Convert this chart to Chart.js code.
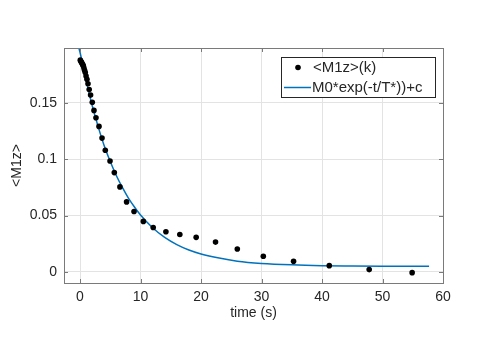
<!DOCTYPE html>
<html>
<head>
<meta charset="utf-8">
<script src="https://cdn.jsdelivr.net/npm/chart.js@4/dist/chart.umd.min.js"></script>
<style>
  html, body { margin: 0; padding: 0; background: #fff; }
  #wrap { width: 491px; height: 345px; }
</style>
</head>
<body>
<div id="wrap"><canvas id="c" width="491" height="345"></canvas></div>
<script>
// ---- data ----
const timeS = [0.05, 0.15, 0.25, 0.35, 0.45, 0.55, 0.65, 0.75, 0.87, 1.0, 1.15, 1.32, 1.52, 1.75,
  2.03, 2.31, 2.64, 3.14, 3.64, 4.18, 4.96, 5.67, 6.6, 7.7, 8.93, 10.47, 12.1, 14.2, 16.5,
  19.2, 22.4, 26.0, 30.3, 35.3, 41.2, 47.8, 54.9];
const m1z = [0.188, 0.187, 0.186, 0.185, 0.184, 0.183, 0.181, 0.179, 0.177, 0.174, 0.171, 0.167, 0.162, 0.157,
  0.1507, 0.1434, 0.1369, 0.1292, 0.1188, 0.108, 0.0985, 0.0882, 0.0755, 0.0622, 0.0537, 0.0449, 0.0395, 0.0357, 0.0333,
  0.0307, 0.0265, 0.0204, 0.0139, 0.0094, 0.0056, 0.0021, -0.0006];
const fitT = [-0.15, 0, 1, 2, 3, 4, 5, 6, 7, 8, 9, 10, 12, 14, 16, 18, 20, 23, 26, 30, 35, 40, 45, 50, 57.7];
const fitY = [0.198, 0.195, 0.170, 0.148, 0.129, 0.112, 0.098, 0.0856, 0.075, 0.0656, 0.0577, 0.0506, 0.0393, 0.0307,
  0.0243, 0.0195, 0.016, 0.0123, 0.0096, 0.0076, 0.0063, 0.0056, 0.0053, 0.0051, 0.005];
const xTicks = [0, 10, 20, 30, 40, 50, 60];
const yTicks = [0, 0.05, 0.1, 0.15];
const seriesNames = ['<M1z>(k)', 'M0*exp(-t/T*))+c'];
const xTitle = 'time (s)';
const yTitle = '<M1z>';

const FONT = 'Liberation Sans, Arial, Helvetica, sans-serif';
const TXT = '#262626';
const BLUE = '#0072BD';

const framePlugin = {
  id: 'frame',
  afterDraw(chart) {
    const ctx = chart.ctx;
    const a = chart.chartArea;
    const xs = chart.scales.x, ys = chart.scales.y;
    ctx.save();
    ctx.strokeStyle = '#7a7a7a';
    ctx.lineWidth = 1;
    ctx.strokeRect(Math.round(a.left) + 0.5, Math.round(a.top) + 0.5,
      Math.round(a.right - a.left), Math.round(a.bottom - a.top));
    const tl = 4;
    ctx.beginPath();
    xTicks.forEach(v => {
      const px = Math.round(xs.getPixelForValue(v)) + 0.5;
      ctx.moveTo(px, a.bottom); ctx.lineTo(px, a.bottom - tl);
      ctx.moveTo(px, a.top); ctx.lineTo(px, a.top + tl);
    });
    yTicks.forEach(v => {
      const py = Math.round(ys.getPixelForValue(v)) + 0.5;
      ctx.moveTo(a.left, py); ctx.lineTo(a.left + tl, py);
      ctx.moveTo(a.right, py); ctx.lineTo(a.right - tl, py);
    });
    ctx.stroke();

    // legend
    const lx = 281.5, ly = 57.5, lw = 154, lh = 40;
    ctx.fillStyle = '#fff';
    ctx.fillRect(lx, ly, lw, lh);
    ctx.strokeStyle = '#262626';
    ctx.lineWidth = 1;
    ctx.strokeRect(lx, ly, lw, lh);
    ctx.font = '15px ' + FONT;
    ctx.textBaseline = 'middle';
    ctx.textAlign = 'left';
    const r1 = 67.5, r2 = 87.5;
    ctx.beginPath();
    ctx.fillStyle = '#000';
    ctx.arc(298, r1, 2.8, 0, Math.PI * 2);
    ctx.fill();
    ctx.strokeStyle = BLUE;
    ctx.lineWidth = 1.5;
    ctx.beginPath();
    ctx.moveTo(284, r2); ctx.lineTo(311, r2);
    ctx.stroke();
    ctx.fillStyle = TXT;
    ctx.fillText(chart.data.datasets[0].label, 313, r1);
    ctx.fillText(chart.data.datasets[1].label, 312, r2);
    ctx.restore();
  }
};

new Chart(document.getElementById('c'), {
  type: 'scatter',
  data: {
    datasets: [
      {
        label: seriesNames[0],
        data: timeS.map((t, i) => ({ x: t, y: m1z[i] })),
        pointRadius: 2.8,
        pointBackgroundColor: '#000',
        pointBorderColor: '#000',
        pointBorderWidth: 0,
        showLine: false,
        order: 1
      },
      {
        label: seriesNames[1],
        data: fitT.map((t, i) => ({ x: t, y: fitY[i] })),
        showLine: true,
        borderColor: BLUE,
        borderWidth: 1.5,
        pointRadius: 0,
        cubicInterpolationMode: 'monotone',
        fill: false,
        order: 2
      }
    ]
  },
  options: {
    responsive: false,
    animation: false,
    devicePixelRatio: 1,
    layout: { padding: { left: 0, right: 48, top: 48, bottom: 0 } },
    plugins: { legend: { display: false }, tooltip: { enabled: false } },
    scales: {
      x: {
        type: 'linear',
        min: -2.645,
        max: 60,
        afterBuildTicks: s => { s.ticks = xTicks.map(v => ({ value: v })); },
        afterFit: s => { s.height = 62; },
        grid: { color: '#e3e3e3', drawTicks: false, lineWidth: 1 },
        border: { display: false },
        ticks: { padding: 6, color: TXT, font: { family: FONT, size: 14 }, maxRotation: 0,
          callback: v => String(v) },
        title: { display: true, text: xTitle, color: TXT, font: { family: FONT, size: 14 },
          padding: { top: 0, bottom: 23 } }
      },
      y: {
        type: 'linear',
        min: -0.0098,
        max: 0.1988,
        afterBuildTicks: s => { s.ticks = yTicks.map(v => ({ value: v })); },
        afterFit: s => { s.width = 64; },
        grid: { color: '#e3e3e3', drawTicks: false, lineWidth: 1 },
        border: { display: false },
        ticks: { padding: 7, color: TXT, font: { family: FONT, size: 14 },
          callback: v => String(v) },
        title: { display: true, text: yTitle, color: TXT, font: { family: FONT, size: 14 },
          padding: { top: 9, bottom: 0 } }
      }
    }
  },
  plugins: [framePlugin]
});
</script>
</body>
</html>
